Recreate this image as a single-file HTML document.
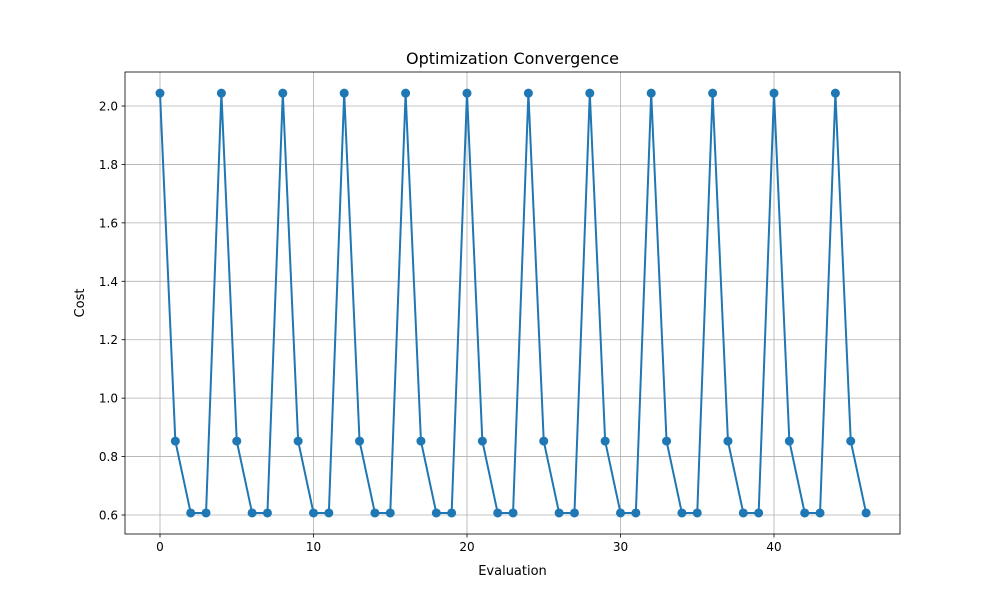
<!DOCTYPE html>
<html><head><meta charset="utf-8"><style>
body{margin:0;background:#fff;}
svg text{font-family:"DejaVu Sans","Liberation Sans",sans-serif;fill:#000;}
</style></head><body>
<svg id="chart" width="1000" height="600">
<rect x="0" y="0" width="1000" height="600" fill="#fff"/>
<g id="grid"></g>
<g id="axes"></g>
<g id="series"></g>
<text x="512.5" y="64" font-size="16" text-anchor="middle">Optimization Convergence</text>
<text x="512.5" y="575" font-size="13" text-anchor="middle">Evaluation</text>
<text x="84" y="303" font-size="13" text-anchor="middle" transform="rotate(-90 84 303)">Cost</text>
</svg>
<script>
const costs = [2.044,0.853,0.607,0.607,2.044,0.853,0.607,0.607,2.044,0.853,0.607,0.607,2.044,0.853,0.607,0.607,2.044,0.853,0.607,0.607,2.044,0.853,0.607,0.607,2.044,0.853,0.607,0.607,2.044,0.853,0.607,0.607,2.044,0.853,0.607,0.607,2.044,0.853,0.607,0.607,2.044,0.853,0.607,0.607,2.044,0.853,0.607];
const xTicks = [0,10,20,30,40];
const yTicks = [0.6,0.8,1.0,1.2,1.4,1.6,1.8,2.0];
const yTickLabels = ["0.6","0.8","1.0","1.2","1.4","1.6","1.8","2.0"];

const L=125,R=900,T=72,B=534;
const xs = v => 160 + v*15.35;
const ys = v => 515 - (v-0.6)*292.14;
const NS="http://www.w3.org/2000/svg";
function mk(tag, attrs, parent){const e=document.createElementNS(NS,tag);for(const k in attrs)e.setAttribute(k,attrs[k]);parent.appendChild(e);return e;}
const grid=document.getElementById('grid'), axes=document.getElementById('axes'), series=document.getElementById('series');

xTicks.forEach(t=>{
  const x=xs(t);
  const g=mk('line',{x1:x,x2:x,y1:T,y2:B,stroke:'#b0b0b0','stroke-width':0.8},grid);
  
  
  const tk=mk('line',{x1:x,x2:x,y1:B,y2:B+3.5,stroke:'#000','stroke-width':0.8},axes);
  
  
  const lb=mk('text',{x:x,y:B+17,'font-size':12,'text-anchor':'middle'},axes);
  lb.textContent=t;
  
  
});
yTicks.forEach((t,i)=>{
  const y=ys(t);
  const g=mk('line',{x1:L,x2:R,y1:y,y2:y,stroke:'#b0b0b0','stroke-width':0.8},grid);
  
  
  const tk=mk('line',{x1:L-3.5,x2:L,y1:y,y2:y,stroke:'#000','stroke-width':0.8},axes);
  
  
  const lb=mk('text',{x:L-7,y:y+4.5,'font-size':12,'text-anchor':'end'},axes);
  lb.textContent=yTickLabels[i];
  
  
});
const frame=mk('rect',{x:L,y:T,width:R-L,height:B-T,fill:'none',stroke:'#000','stroke-width':0.8},axes);



const pts=costs.map((c,i)=>xs(i)+','+ys(c)).join(' ');
const line=mk('polyline',{points:pts,fill:'none',stroke:'#1f77b4','stroke-width':2},series);


costs.forEach((c,i)=>{
  const p=mk('circle',{cx:xs(i),cy:ys(c),r:4.5,fill:'#1f77b4'},series);
  
  
});
</script>
</body></html>
